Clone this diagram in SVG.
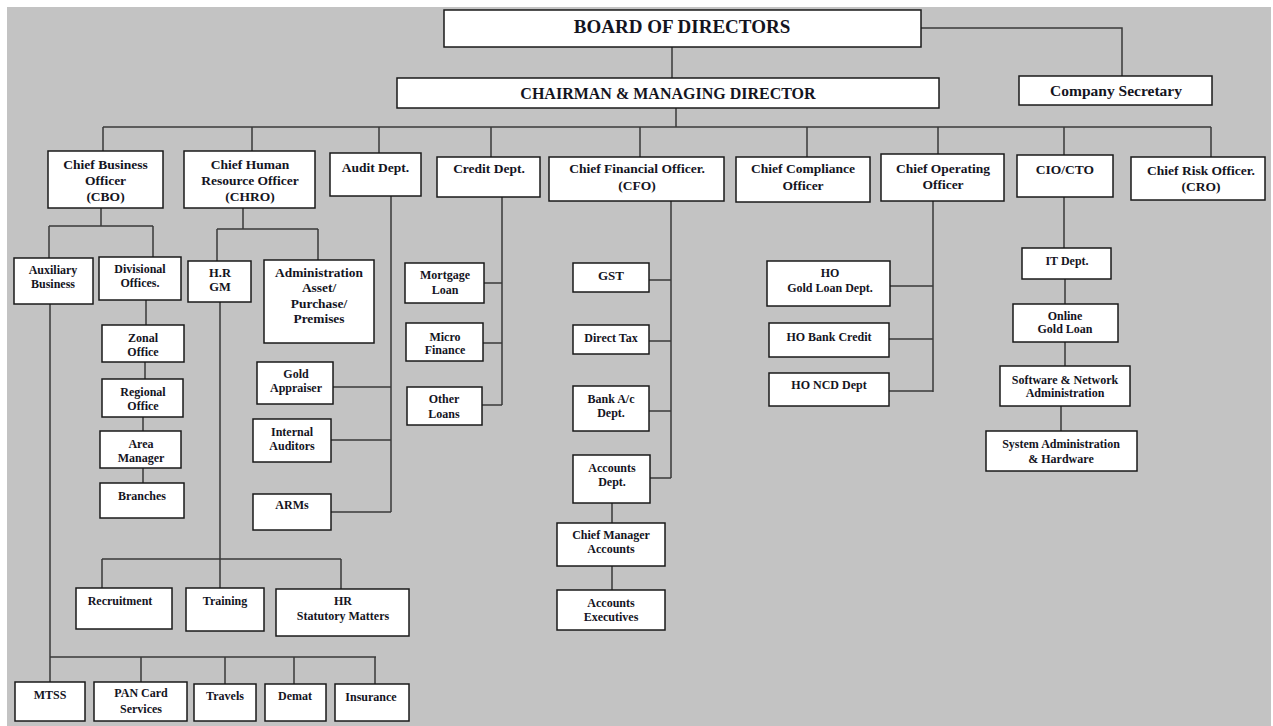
<svg xmlns="http://www.w3.org/2000/svg" width="1273" height="726" viewBox="0 0 1273 726">
<style>
.bx{fill:#fff;stroke:#1a1a1a;stroke-width:1.5}
text{font-family:"Liberation Serif","Times New Roman",serif;font-weight:bold;fill:#14141e;text-anchor:middle}
.t1{font-size:13.5px}
.t2{font-size:12px}
.cn{fill:none;stroke:#3a3a3a;stroke-width:1.5}
</style>
<rect x="0" y="0" width="1273" height="726" fill="#fff"/>
<rect x="7" y="7" width="1264" height="719" fill="#c3c3c3"/>
<g id="connectors" class="cn">
<path d="M672 47V78"/>
<path d="M921 28H1122V76"/>
<path d="M676 108V127"/>
<path d="M103 127H1211"/>
<path d="M103 127V151M252 127V151M379 127V153M491 127V157M640 127V157M807 127V157M938 127V154M1064 127V155M1211 127V157"/>
<path d="M101 208V226M49 226H153M49 226V258M153 226V257"/>
<path d="M50 304V682M50 657H376M141 657V682M225 657V684M294 657V684M375 657V684"/>
<path d="M146 300V325M145 362V379M143 417V431M143 468V483"/>
<path d="M243 208V229M217 229H318M217 229V261M318 229V260"/>
<path d="M220 302V588M102 559H341M102 559V588M341 559V589"/>
<path d="M391 196V512M333 387H391M331 440H391M331 512H391"/>
<path d="M502 197V405M484 283H502M483 343H502M482 405H502"/>
<path d="M671 201V478M649 280H671M649 341H671M649 411H671M650 478H671"/>
<path d="M612 503V523M612 566V590"/>
<path d="M933 201V392M890 286H933M889 339H933M889 391H933"/>
<path d="M1064 197V248M1065 279V304M1065 342V366M1061 406V431"/>
</g>
<g id="board"><rect class="bx" x="444" y="10" width="477" height="37"/><text x="682" y="33" style="font-size:19px">BOARD OF DIRECTORS</text></g>
<g id="cmd"><rect class="bx" x="397" y="78" width="542" height="30"/><text x="668" y="99" style="font-size:16px">CHAIRMAN &amp; MANAGING DIRECTOR</text></g>
<g id="cs"><rect class="bx" x="1019" y="76" width="193" height="29"/><text x="1116" y="96" style="font-size:15.5px">Company Secretary</text></g>
<g id="cbo"><rect class="bx" x="48" y="151" width="115" height="57"/><text class="t1" x="105.5" y="169">Chief Business</text><text class="t1" x="105.5" y="185">Officer</text><text class="t1" x="105.5" y="201">(CBO)</text></g>
<g id="chro"><rect class="bx" x="184" y="151" width="131" height="57"/><text class="t1" x="250" y="169">Chief Human</text><text class="t1" x="250" y="185">Resource Officer</text><text class="t1" x="250" y="201">(CHRO)</text></g>
<g id="audit"><rect class="bx" x="330" y="153" width="91" height="43"/><text class="t1" x="375.5" y="172">Audit Dept.</text></g>
<g id="credit"><rect class="bx" x="437" y="157" width="103" height="40"/><text class="t1" x="489" y="173">Credit Dept.</text></g>
<g id="cfo"><rect class="bx" x="549" y="157" width="175" height="44"/><text class="t1" x="637" y="173">Chief Financial Officer.</text><text class="t1" x="637" y="190">(CFO)</text></g>
<g id="cco"><rect class="bx" x="736" y="157" width="134" height="45"/><text class="t1" x="803" y="173">Chief Compliance</text><text class="t1" x="803" y="190">Officer</text></g>
<g id="coo"><rect class="bx" x="881" y="154" width="123" height="47"/><text class="t1" x="943" y="173">Chief Operating</text><text class="t1" x="943" y="189">Officer</text></g>
<g id="cio"><rect class="bx" x="1017" y="155" width="96" height="42"/><text class="t1" x="1065" y="174">CIO/CTO</text></g>
<g id="cro"><rect class="bx" x="1131" y="157" width="134" height="43"/><text class="t1" x="1201" y="175">Chief Risk Officer.</text><text class="t1" x="1201" y="191">(CRO)</text></g>
<g id="aux"><rect class="bx" x="14" y="258" width="79" height="46"/><text class="t2" x="53" y="274">Auxiliary</text><text class="t2" x="53" y="288">Business</text></g>
<g id="div"><rect class="bx" x="99" y="257" width="82" height="43"/><text class="t2" x="140" y="273">Divisional</text><text class="t2" x="140" y="287">Offices.</text></g>
<g id="zonal"><rect class="bx" x="102" y="325" width="82" height="37"/><text class="t2" x="143" y="342">Zonal</text><text class="t2" x="143" y="356">Office</text></g>
<g id="regional"><rect class="bx" x="102" y="379" width="81" height="38"/><text class="t2" x="143" y="396">Regional</text><text class="t2" x="143" y="410">Office</text></g>
<g id="area"><rect class="bx" x="100" y="431" width="81" height="37"/><text class="t2" x="141" y="448">Area</text><text class="t2" x="141" y="462">Manager</text></g>
<g id="branches"><rect class="bx" x="100" y="483" width="84" height="35"/><text class="t2" x="142" y="500">Branches</text></g>
<g id="hrgm"><rect class="bx" x="188" y="261" width="63" height="41"/><text class="t2" x="220" y="277" style="font-size:12.5px">H.R</text><text class="t2" x="220" y="291" style="font-size:12.5px">GM</text></g>
<g id="admin"><rect class="bx" x="264" y="260" width="110" height="83"/><text x="319" y="277" style="font-size:13.4px">Administration</text><text x="319" y="292" style="font-size:13.4px">Asset/</text><text x="319" y="308" style="font-size:13.4px">Purchase/</text><text x="319" y="323" style="font-size:13.4px">Premises</text></g>
<g id="gold"><rect class="bx" x="257" y="362" width="76" height="42"/><text class="t2" x="296" y="378">Gold</text><text class="t2" x="296" y="392">Appraiser</text></g>
<g id="ia"><rect class="bx" x="253" y="419" width="78" height="43"/><text class="t2" x="292" y="436">Internal</text><text class="t2" x="292" y="450">Auditors</text></g>
<g id="arms"><rect class="bx" x="253" y="494" width="78" height="36"/><text class="t2" x="292" y="509">ARMs</text></g>
<g id="recruit"><rect class="bx" x="76" y="588" width="96" height="41"/><text class="t2" x="120" y="605">Recruitment</text></g>
<g id="training"><rect class="bx" x="186" y="588" width="78" height="43"/><text class="t2" x="225" y="605">Training</text></g>
<g id="hrsm"><rect class="bx" x="276" y="589" width="133" height="47"/><text class="t2" x="343" y="605">HR</text><text class="t2" x="343" y="620">Statutory Matters</text></g>
<g id="mtss"><rect class="bx" x="15" y="682" width="70" height="39"/><text class="t2" x="50" y="699">MTSS</text></g>
<g id="pan"><rect class="bx" x="94" y="682" width="93" height="39"/><text class="t2" x="141" y="697">PAN Card</text><text class="t2" x="141" y="713">Services</text></g>
<g id="travels"><rect class="bx" x="194" y="684" width="62" height="37"/><text class="t2" x="225" y="700">Travels</text></g>
<g id="demat"><rect class="bx" x="265" y="684" width="61" height="37"/><text class="t2" x="295" y="700">Demat</text></g>
<g id="insurance"><rect class="bx" x="335" y="684" width="74" height="37"/><text class="t2" x="371" y="701">Insurance</text></g>
<g id="mortgage"><rect class="bx" x="405" y="263" width="79" height="40"/><text class="t2" x="445" y="279">Mortgage</text><text class="t2" x="445" y="294">Loan</text></g>
<g id="micro"><rect class="bx" x="406" y="323" width="77" height="38"/><text class="t2" x="445" y="341">Micro</text><text class="t2" x="445" y="354">Finance</text></g>
<g id="other"><rect class="bx" x="407" y="387" width="75" height="38"/><text class="t2" x="444" y="403">Other</text><text class="t2" x="444" y="418">Loans</text></g>
<g id="gst"><rect class="bx" x="573" y="263" width="76" height="29"/><text x="611" y="280" style="font-size:13px">GST</text></g>
<g id="dtax"><rect class="bx" x="573" y="325" width="76" height="29"/><text class="t2" x="611" y="342">Direct Tax</text></g>
<g id="bank"><rect class="bx" x="573" y="386" width="76" height="45"/><text class="t2" x="611" y="403">Bank A/c</text><text class="t2" x="611" y="417">Dept.</text></g>
<g id="accdept"><rect class="bx" x="573" y="455" width="77" height="48"/><text class="t2" x="612" y="472">Accounts</text><text class="t2" x="612" y="486">Dept.</text></g>
<g id="cma"><rect class="bx" x="557" y="523" width="108" height="43"/><text class="t2" x="611" y="539">Chief Manager</text><text class="t2" x="611" y="553">Accounts</text></g>
<g id="accexec"><rect class="bx" x="557" y="590" width="108" height="40"/><text class="t2" x="611" y="607">Accounts</text><text class="t2" x="611" y="621">Executives</text></g>
<g id="hogold"><rect class="bx" x="767" y="261" width="123" height="45"/><text class="t2" x="830" y="277">HO</text><text class="t2" x="830" y="292">Gold Loan Dept.</text></g>
<g id="hobank"><rect class="bx" x="769" y="323" width="120" height="34"/><text class="t2" x="829" y="341">HO Bank Credit</text></g>
<g id="honcd"><rect class="bx" x="769" y="373" width="120" height="33"/><text class="t2" x="829" y="389">HO NCD Dept</text></g>
<g id="it"><rect class="bx" x="1022" y="248" width="89" height="31"/><text class="t2" x="1067" y="265">IT Dept.</text></g>
<g id="online"><rect class="bx" x="1013" y="304" width="105" height="38"/><text class="t2" x="1065" y="320">Online</text><text class="t2" x="1065" y="333">Gold Loan</text></g>
<g id="swnet"><rect class="bx" x="1000" y="366" width="130" height="40"/><text class="t2" x="1065" y="384">Software &amp; Network</text><text class="t2" x="1065" y="397">Administration</text></g>
<g id="sysadmin"><rect class="bx" x="986" y="431" width="151" height="40"/><text class="t2" x="1061" y="448">System Administration</text><text class="t2" x="1061" y="463">&amp; Hardware</text></g>
</svg>
